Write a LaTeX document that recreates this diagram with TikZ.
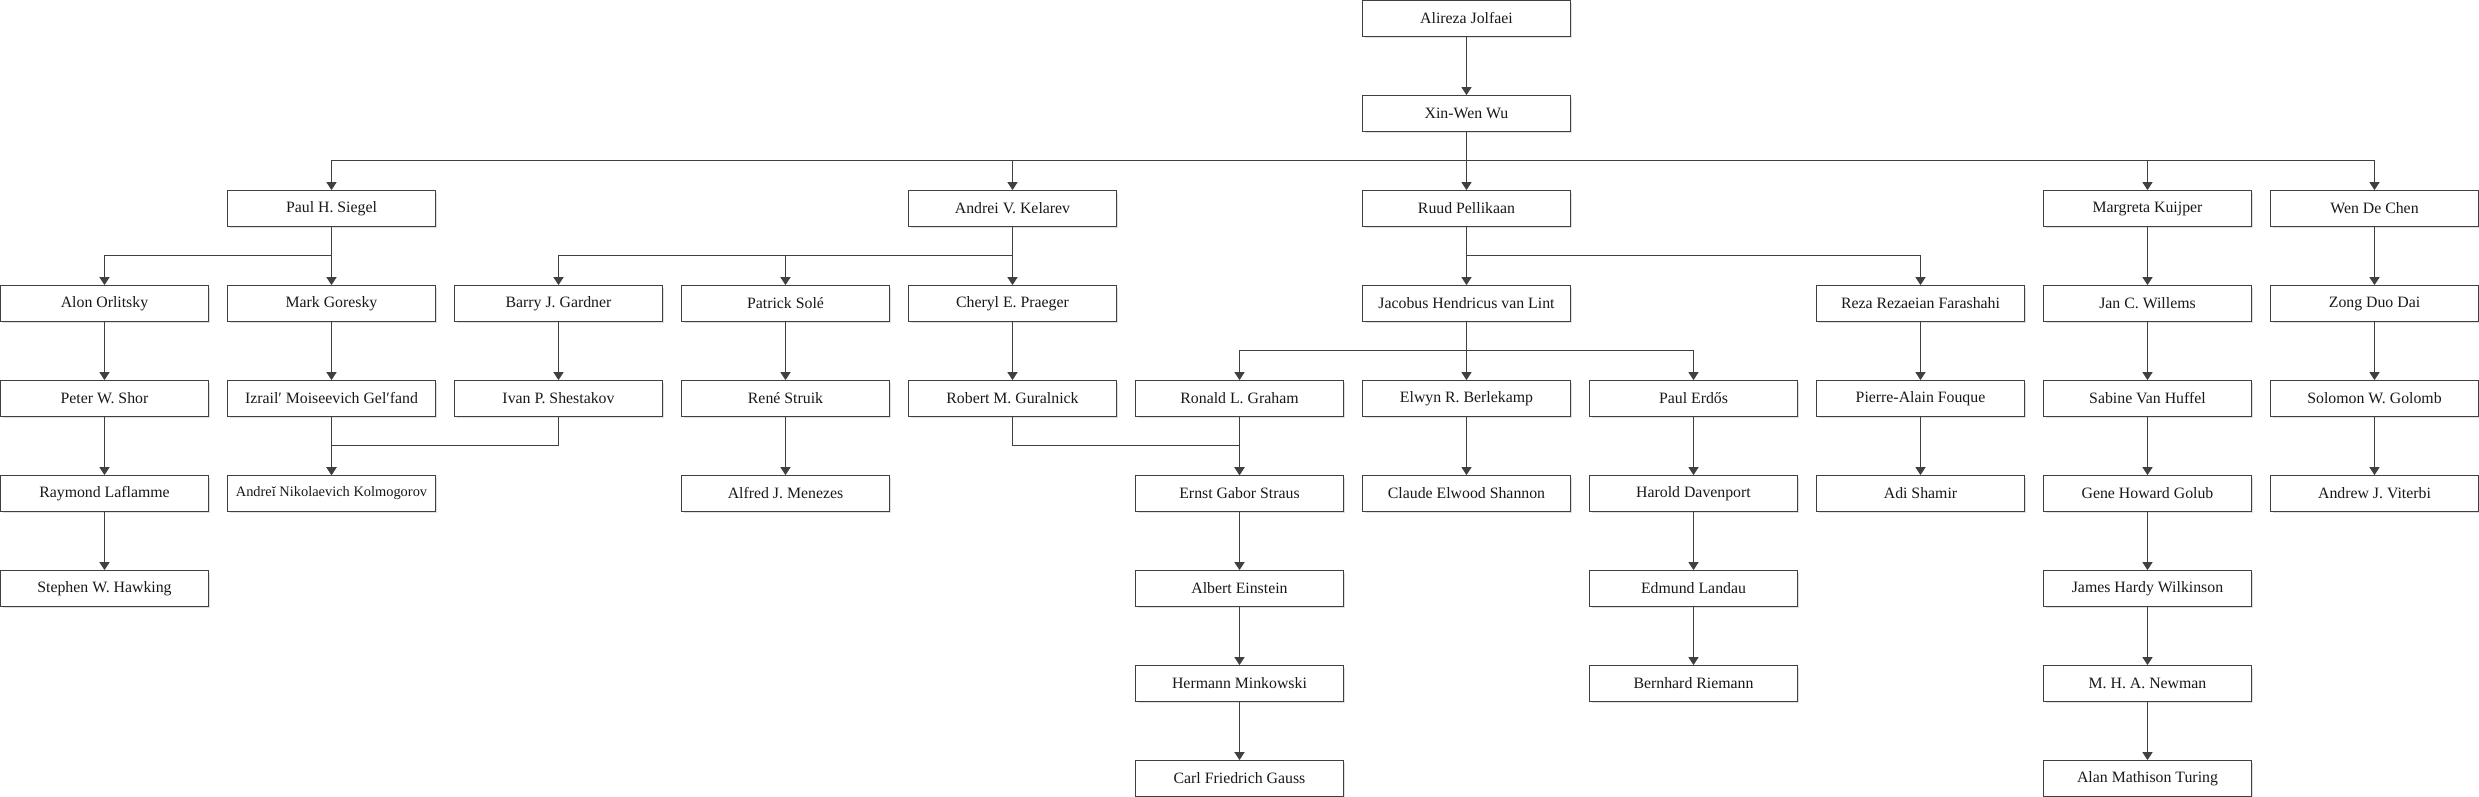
\documentclass[tikz,border=0pt]{standalone}
\usepackage{fontspec}
\setmainfont{Liberation Serif}
\usetikzlibrary{arrows.meta,shadows}

\begin{document}
\begin{tikzpicture}[
        x=4.54cm, y=-1.9cm,
        person/.style={rectangle, draw=black!75, line width=0.7pt, fill=white,
            minimum width=4.15cm, minimum height=0.71cm, inner sep=1pt,
            text=black!90, font=\fontsize{9}{10}\selectfont,
            drop shadow={shadow xshift=0.04cm, shadow yshift=-0.04cm, fill=black!12, opacity=1}},
        small text/.style={font=\fontsize{8.2}{9}\selectfont},
        link/.style={draw=black!75, line width=0.7pt, -{Triangle[width=0.2cm, length=0.16cm]}},
        bus/.style={draw=black!75, line width=0.7pt}
    ]
	\useasboundingbox (-2.09cm,0.37cm) rectangle (47.49cm,-15.57cm);

	\node[person] (r_jolfaei) at (6,0) {Alireza Jolfaei};
	\node[person] (r_wu) at (6,1) {Xin-Wen Wu};
	\node[person] (r_siegel) at (1,2) {Paul H. Siegel};
	\node[person] (r_kelarev) at (4,2) {Andrei V. Kelarev};
	\node[person] (r_pellikaan) at (6,2) {Ruud Pellikaan};
	\node[person] (r_kuijper) at (9,2) {Margreta Kuijper};
	\node[person] (r_chen) at (10,2) {Wen De Chen};

	\node[person] (r_orlitsky) at (0,3) {Alon Orlitsky};
	\node[person] (r_goresky) at (1,3) {Mark Goresky};
	\node[person] (r_gardner) at (2,3) {Barry J. Gardner};
	\node[person] (r_sole) at (3,3) {Patrick Solé};
	\node[person] (r_praeger) at (4,3) {Cheryl E. Praeger};
	\node[person] (r_vanlint) at (6,3) {Jacobus Hendricus van Lint};
	\node[person] (r_farashahi) at (8,3) {Reza Rezaeian Farashahi};
	\node[person] (r_willems) at (9,3) {Jan C. Willems};
	\node[person] (r_dai) at (10,3) {Zong Duo Dai};

	\node[person] (r_shor) at (0,4) {Peter W. Shor};
	\node[person] (r_gelfand) at (1,4) {Izrail′ Moiseevich Gel′fand};
	\node[person] (r_shestakov) at (2,4) {Ivan P. Shestakov};
	\node[person] (r_struik) at (3,4) {René Struik};
	\node[person] (r_guralnick) at (4,4) {Robert M. Guralnick};
	\node[person] (r_graham) at (5,4) {Ronald L. Graham};
	\node[person] (r_berlekamp) at (6,4) {Elwyn R. Berlekamp};
	\node[person] (r_erdos) at (7,4) {Paul Erdős};
	\node[person] (r_fouque) at (8,4) {Pierre-Alain Fouque};
	\node[person] (r_vanhuffel) at (9,4) {Sabine Van Huffel};
	\node[person] (r_golomb) at (10,4) {Solomon W. Golomb};

	\node[person] (r_laflamme) at (0,5) {Raymond Laflamme};
	\node[person, small text] (r_kolmogorov) at (1,5) {Andreĭ Nikolaevich Kolmogorov};
	\node[person] (r_menezes) at (3,5) {Alfred J. Menezes};
	\node[person] (r_straus) at (5,5) {Ernst Gabor Straus};
	\node[person] (r_shannon) at (6,5) {Claude Elwood Shannon};
	\node[person] (r_davenport) at (7,5) {Harold Davenport};
	\node[person] (r_shamir) at (8,5) {Adi Shamir};
	\node[person] (r_golub) at (9,5) {Gene Howard Golub};
	\node[person] (r_viterbi) at (10,5) {Andrew J. Viterbi};

	\node[person] (r_hawking) at (0,6) {Stephen W. Hawking};
	\node[person] (r_einstein) at (5,6) {Albert Einstein};
	\node[person] (r_landau) at (7,6) {Edmund Landau};
	\node[person] (r_wilkinson) at (9,6) {James Hardy Wilkinson};

	\node[person] (r_minkowski) at (5,7) {Hermann Minkowski};
	\node[person] (r_riemann) at (7,7) {Bernhard Riemann};
	\node[person] (r_newman) at (9,7) {M. H. A. Newman};

	\node[person] (r_gauss) at (5,8) {Carl Friedrich Gauss};
	\node[person] (r_turing) at (9,8) {Alan Mathison Turing};

	% straight links
	\draw[link] (r_jolfaei) -- (r_wu);
	\draw[link] (r_wu) -- (r_pellikaan);
	\draw[link] (r_siegel) -- (r_goresky);
	\draw[link] (r_kelarev) -- (r_praeger);
	\draw[link] (r_pellikaan) -- (r_vanlint);
	\draw[link] (r_kuijper) -- (r_willems);
	\draw[link] (r_chen) -- (r_dai);
	\draw[link] (r_orlitsky) -- (r_shor);
	\draw[link] (r_goresky) -- (r_gelfand);
	\draw[link] (r_gardner) -- (r_shestakov);
	\draw[link] (r_sole) -- (r_struik);
	\draw[link] (r_praeger) -- (r_guralnick);
	\draw[link] (r_vanlint) -- (r_berlekamp);
	\draw[link] (r_farashahi) -- (r_fouque);
	\draw[link] (r_willems) -- (r_vanhuffel);
	\draw[link] (r_dai) -- (r_golomb);
	\draw[link] (r_shor) -- (r_laflamme);
	\draw[link] (r_gelfand) -- (r_kolmogorov);
	\draw[link] (r_struik) -- (r_menezes);
	\draw[link] (r_graham) -- (r_straus);
	\draw[link] (r_berlekamp) -- (r_shannon);
	\draw[link] (r_erdos) -- (r_davenport);
	\draw[link] (r_fouque) -- (r_shamir);
	\draw[link] (r_vanhuffel) -- (r_golub);
	\draw[link] (r_golomb) -- (r_viterbi);
	\draw[link] (r_laflamme) -- (r_hawking);
	\draw[link] (r_straus) -- (r_einstein);
	\draw[link] (r_davenport) -- (r_landau);
	\draw[link] (r_golub) -- (r_wilkinson);
	\draw[link] (r_einstein) -- (r_minkowski);
	\draw[link] (r_landau) -- (r_riemann);
	\draw[link] (r_wilkinson) -- (r_newman);
	\draw[link] (r_minkowski) -- (r_gauss);
	\draw[link] (r_newman) -- (r_turing);

	% branching links
	\draw[link] (r_wu.south) -- ++(0,-0.58cm) -| (r_siegel.north);
	\draw[link] (r_wu.south) -- ++(0,-0.58cm) -| (r_kelarev.north);
	\draw[link] (r_wu.south) -- ++(0,-0.58cm) -| (r_kuijper.north);
	\draw[link] (r_wu.south) -- ++(0,-0.58cm) -| (r_chen.north);
	\draw[link] (r_siegel.south) -- ++(0,-0.58cm) -| (r_orlitsky.north);
	\draw[link] (r_kelarev.south) -- ++(0,-0.58cm) -| (r_gardner.north);
	\draw[link] (r_kelarev.south) -- ++(0,-0.58cm) -| (r_sole.north);
	\draw[link] (r_pellikaan.south) -- ++(0,-0.58cm) -| (r_farashahi.north);
	\draw[link] (r_vanlint.south) -- ++(0,-0.58cm) -| (r_graham.north);
	\draw[link] (r_vanlint.south) -- ++(0,-0.58cm) -| (r_erdos.north);

	% merging links
	\draw[link] (r_shestakov.south) -- ++(0,-0.58cm) -| (r_kolmogorov.north);
	\draw[link] (r_guralnick.south) -- ++(0,-0.58cm) -| (r_straus.north);
\end{tikzpicture}
\end{document}
